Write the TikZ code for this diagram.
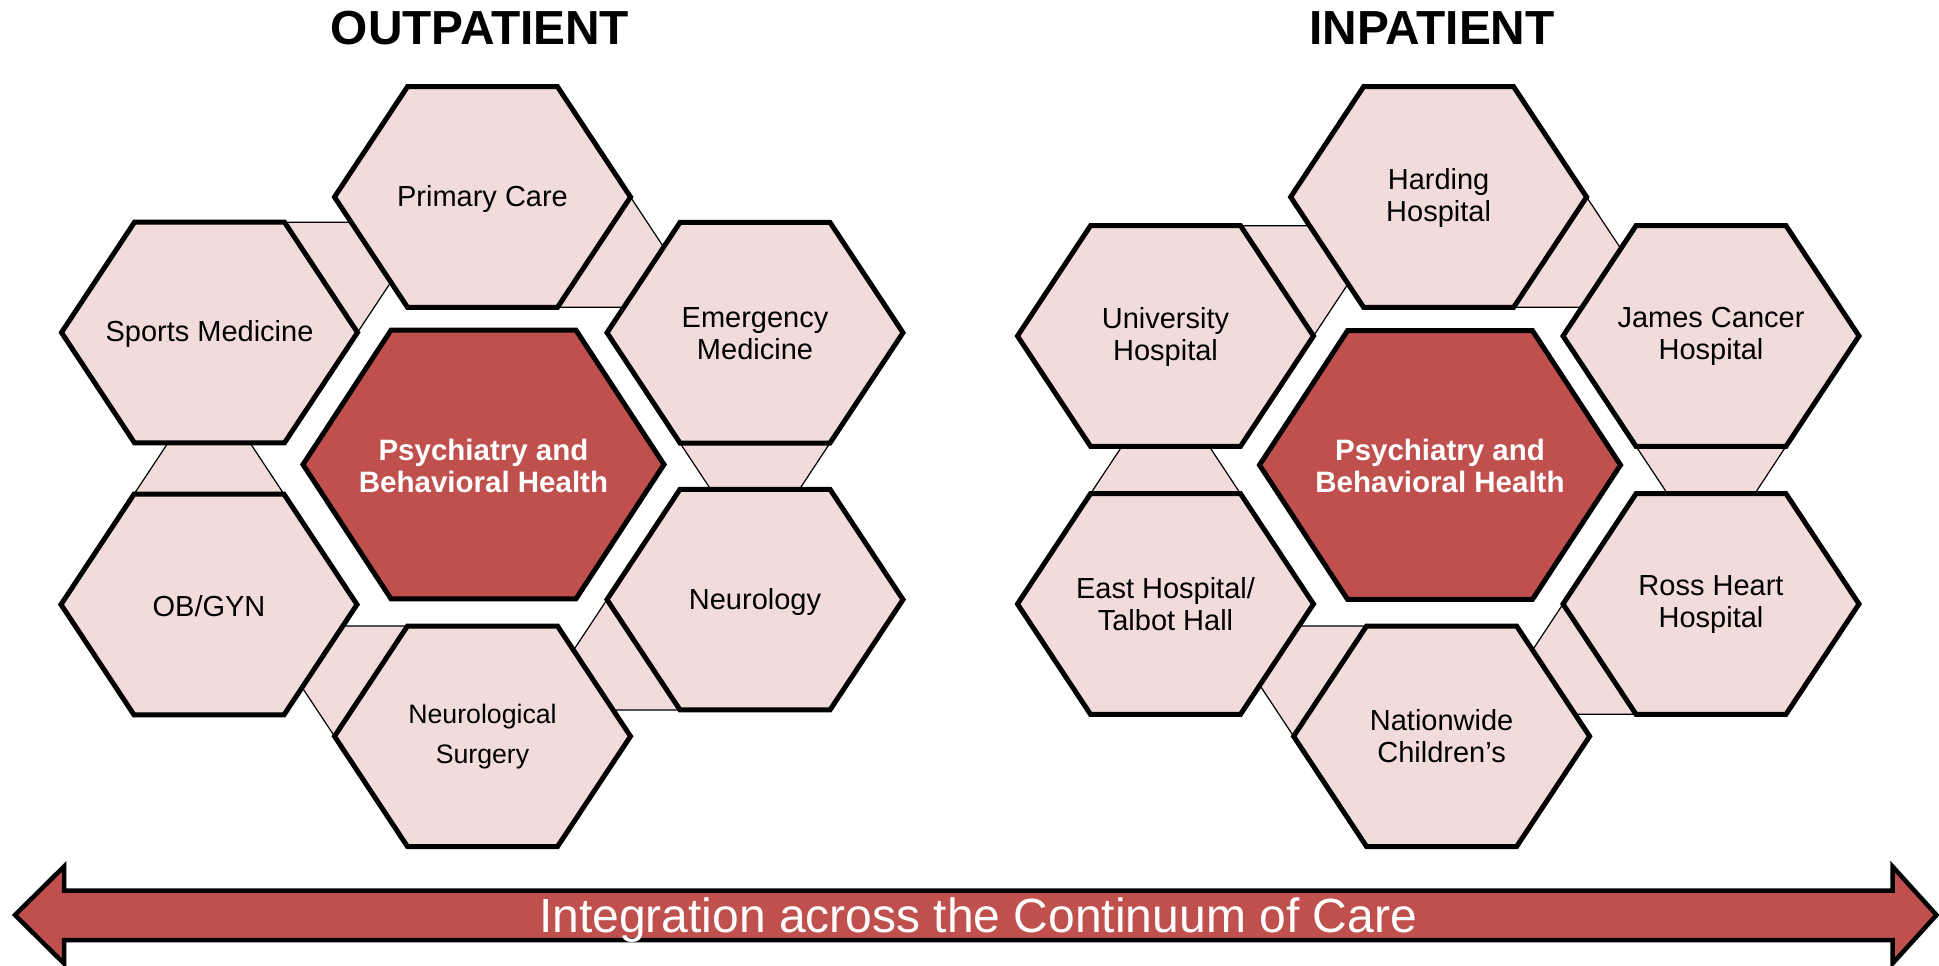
\documentclass[tikz,border=0pt]{standalone}
\usepackage{fontspec}
\setmainfont{Liberation Sans}
\definecolor{hexpink}{HTML}{F2DCDB}
\definecolor{hexred}{HTML}{C0504D}
% hexagon corner coordinates: name, cx, cy, half-width, half-height, half top edge
\newcommand\defhex[6]{%
  \coordinate (#11) at ({#2+#4},{#3});
  \coordinate (#12) at ({#2+#6},{#3-#5});
  \coordinate (#13) at ({#2-#6},{#3-#5});
  \coordinate (#14) at ({#2-#4},{#3});
  \coordinate (#15) at ({#2-#6},{#3+#5});
  \coordinate (#16) at ({#2+#6},{#3+#5});
}
\newcommand\drawhex[2]{%
  \draw[#2] (#11) -- (#12) -- (#13) -- (#14) -- (#15) -- (#16) -- cycle;
}
% connector: A, p, pp, q, qn, B, b1, b2
\newcommand\hexlink[8]{%
  \draw[linkbox] (#1#2)
    -- (intersection of #1#3--#1#2 and #6#7--#6#8)
    -- (intersection of #1#5--#1#4 and #6#7--#6#8)
    -- (#1#4) -- cycle;
}
\begin{document}
\begin{tikzpicture}[x=1pt,y=-1pt,
  hexbox/.style={fill=hexpink, draw=black, line width=5pt, line join=miter},
  corebox/.style={fill=hexred, draw=black, line width=5pt, line join=miter},
  linkbox/.style={fill=hexpink, draw=black, line width=1.2pt},
  hextext/.style={align=center, text=black, font=\fontsize{29}{32}\selectfont, inner sep=0pt},
  smalltext/.style={align=center, text=black, font=\fontsize{26.7}{40}\selectfont, inner sep=0pt},
  coretext/.style={align=center, text=white, font=\fontsize{29.5}{32}\selectfont\bfseries, inner sep=0pt},
  titletext/.style={text=black, font=\fontsize{47.8}{52}\selectfont\bfseries, inner sep=0pt},
  bararrow/.style={fill=hexred, draw=black, line width=4.5pt, line join=miter},
  bartext/.style={text=white, font=\fontsize{48}{56}\selectfont, inner sep=0pt}]
\useasboundingbox (0,0) rectangle (1939,966);

% ---------- Outpatient ----------
\defhex{PC}{482.5}{197}{148}{110.3}{75}
\defhex{Sp}{209.5}{332.5}{148}{110.3}{75}
\defhex{Em}{755}{332.7}{148}{110.3}{75}
\defhex{Nu}{755}{599.6}{148}{110.3}{75}
\defhex{OB}{209}{604.5}{148}{110.3}{75}
\defhex{NS}{482.5}{736.3}{148}{110.3}{75}
\defhex{PO}{483.5}{464.5}{180.5}{134.3}{92.5}

\hexlink{PC}{6}{5}{1}{2}{Em}{3}{4}
\hexlink{Em}{5}{4}{6}{1}{Nu}{2}{3}
\hexlink{Nu}{4}{3}{5}{6}{NS}{1}{2}
\hexlink{NS}{3}{2}{4}{5}{OB}{6}{1}
\hexlink{OB}{2}{1}{3}{4}{Sp}{5}{6}
\hexlink{Sp}{1}{6}{2}{3}{PC}{4}{5}

\drawhex{PC}{hexbox}
\drawhex{Sp}{hexbox}
\drawhex{Em}{hexbox}
\drawhex{Nu}{hexbox}
\drawhex{OB}{hexbox}
\drawhex{NS}{hexbox}
\drawhex{PO}{corebox}

\node[hextext] (PCt) at (482.5,199) {Primary Care};
\node[hextext] (Spt) at (209.5,334.5) {Sports Medicine};
\node[hextext] (Emt) at (755,334) {Emergency\\Medicine};
\node[hextext] (Nut) at (755,601.5) {Neurology};
\node[hextext] (OBt) at (209,606.5) {OB/GYN};
\node[smalltext] (NSt) at (482.5,737) {Neurological\\Surgery};
\node[coretext] (POt) at (483.5,466) {Psychiatry and\\Behavioral Health};

% ---------- Inpatient ----------
\defhex{HH}{1438.6}{197}{148}{110.3}{75}
\defhex{UH}{1165.5}{336}{148}{110.3}{75}
\defhex{JC}{1711}{336}{148}{110.3}{75}
\defhex{RH}{1711}{604}{148}{110.3}{75}
\defhex{EH}{1165.5}{604}{148}{110.3}{75}
\defhex{NC}{1441.6}{736.3}{148}{110.3}{75}
\defhex{PI}{1440}{465}{180.5}{134.3}{92.5}

\hexlink{HH}{6}{5}{1}{2}{JC}{3}{4}
\hexlink{JC}{5}{4}{6}{1}{RH}{2}{3}
\hexlink{RH}{4}{3}{5}{6}{NC}{1}{2}
\hexlink{NC}{3}{2}{4}{5}{EH}{6}{1}
\hexlink{EH}{2}{1}{3}{4}{UH}{5}{6}
\hexlink{UH}{1}{6}{2}{3}{HH}{4}{5}

\drawhex{HH}{hexbox}
\drawhex{UH}{hexbox}
\drawhex{JC}{hexbox}
\drawhex{RH}{hexbox}
\drawhex{EH}{hexbox}
\drawhex{NC}{hexbox}
\drawhex{PI}{corebox}

\node[hextext] (HHt) at (1438.6,198) {Harding\\Hospital};
\node[hextext] (UHt) at (1165.5,336.5) {University\\Hospital};
\node[hextext] (JCt) at (1711,336.5) {James Cancer\\Hospital};
\node[hextext] (RHt) at (1711,604.5) {Ross Heart\\Hospital};
\node[hextext] (EHt) at (1165.5,604.5) {East Hospital/\\Talbot Hall};
\node[hextext] (NCt) at (1441.6,736.5) {Nationwide\\Children’s};
\node[coretext] (PIt) at (1440,466) {Psychiatry and\\Behavioral Health};

% ---------- Titles ----------
\node[titletext, anchor=base] (outT) at (480,45) {OUTPATIENT};
\node[titletext, anchor=base] (inT) at (1432,45) {INPATIENT};

% ---------- Arrow ----------
\draw[bararrow] (15,915) -- (64,866.5) -- (64,890.7) -- (1892.5,890.7)
  -- (1892.5,866.5) -- (1936.5,915) -- (1892.5,963.5) -- (1892.5,940)
  -- (64,940) -- (64,963.5) -- cycle;
\node[bartext, anchor=base] (cont) at (978,932.7) {Integration across the Continuum of Care};
\end{tikzpicture}
\end{document}
